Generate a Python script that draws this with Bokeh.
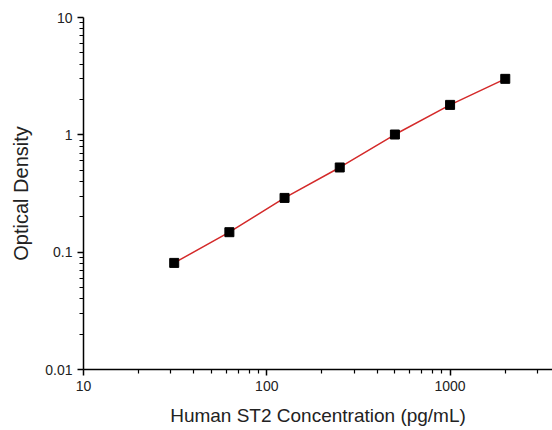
from bokeh.plotting import figure
from bokeh.models import FixedTicker, Range1d
from bokeh.embed import file_html
from bokeh.resources import INLINE

conc = [31.25, 62.5, 125, 250, 500, 1000, 2000]
od = [0.081, 0.148, 0.290, 0.527, 1.006, 1.80, 3.0]

x_ticks = [10, 100, 1000]
x_labels = {10: "10", 100: "100", 1000: "1000"}
y_ticks = [0.01, 0.1, 1, 10]
y_labels = {0.01: "0.01", 0.1: "0.1", 1: "1", 10: "10"}

def minors(lo_exp, hi_exp, limit):
    out = []
    for e in range(lo_exp, hi_exp):
        for m in range(2, 10):
            v = m * 10 ** e
            if v <= limit:
                out.append(v)
    return out

p = figure(width=552, height=430, x_axis_type="log", y_axis_type="log",
           x_range=Range1d(10, 3620), y_range=Range1d(0.01, 10),
           output_backend="svg", toolbar_location=None,
           min_border_left=83, min_border_right=0, min_border_top=17, min_border_bottom=61)
p.outline_line_color = None
p.xgrid.visible = False
p.ygrid.visible = False

p.line(conc, od, line_color="#d42a2a", line_width=1.5)
p.scatter(conc, od, marker="square", size=9, fill_color="black", line_color="black")

p.xaxis.ticker = FixedTicker(ticks=x_ticks, minor_ticks=minors(1, 4, 3620))
p.yaxis.ticker = FixedTicker(ticks=y_ticks, minor_ticks=minors(-2, 1, 10))
p.xaxis.major_label_overrides = x_labels
p.yaxis.major_label_overrides = y_labels

for ax in (p.xaxis[0], p.yaxis[0]):
    ax.axis_line_color = "black"
    ax.axis_line_width = 1.5
    ax.major_tick_line_color = "black"
    ax.major_tick_line_width = 1.5
    ax.minor_tick_line_color = "black"
    ax.minor_tick_line_width = 1.2
    ax.major_tick_out = 6
    ax.major_tick_in = 0
    ax.minor_tick_out = 4
    ax.minor_tick_in = 0
    ax.major_label_text_font = "Liberation Sans"
    ax.major_label_text_font_size = "14px"
    ax.major_label_text_color = "#222222"
    ax.axis_label_text_font = "Liberation Sans"
    ax.axis_label_text_font_style = "normal"
    ax.axis_label_text_color = "#222222"

p.xaxis.axis_label = "Human ST2 Concentration (pg/mL)"
p.yaxis.axis_label = "Optical Density"
p.xaxis.axis_label_text_font_size = "19px"
p.yaxis.axis_label_text_font_size = "20px"
p.xaxis.axis_label_standoff = 11
p.yaxis.axis_label_standoff = 10

open("out.html", "w").write(file_html(p, INLINE))
